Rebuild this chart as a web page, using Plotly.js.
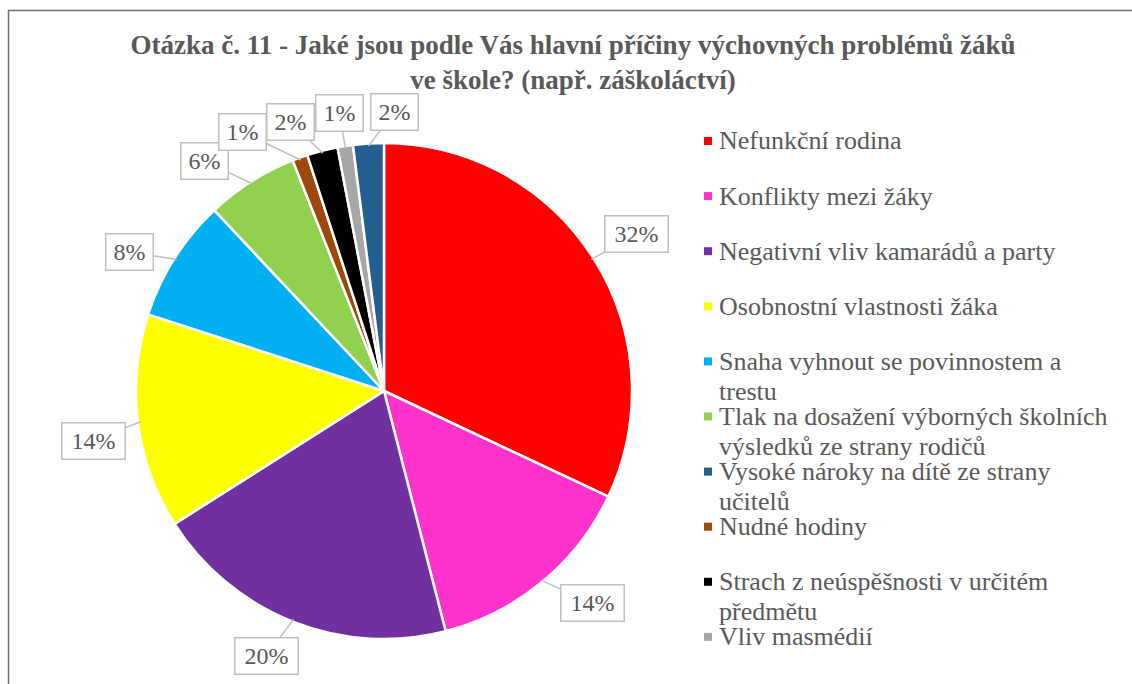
<!DOCTYPE html>
<html>
<head>
<meta charset="utf-8">
<script src="https://cdn.plot.ly/plotly-3.0.1.min.js"></script>
<style>html,body{margin:0;padding:0;background:#fff;}#chart{width:1132px;height:684px;}</style>
</head>
<body>
<div id="chart"></div>
<script>
// ---- data (slice order, clockwise from 12 o'clock) ----
const categories = [
  "Nefunkční rodina",
  "Konflikty mezi žáky",
  "Negativní vliv kamarádů a party",
  "Osobnostní vlastnosti žáka",
  "Snaha vyhnout se povinnostem a trestu",
  "Tlak na dosažení výborných školních výsledků ze strany rodičů",
  "Nudné hodiny",
  "Strach z neúspěšnosti v určitém předmětu",
  "Vliv masmédií",
  "Vysoké nároky na dítě ze strany učitelů"
];
const values = [32, 14, 20, 14, 8, 6, 1, 2, 1, 2];
// legend order and wrapping (lines separated by "|")
const legendLabels = [
  "Nefunkční rodina",
  "Konflikty mezi žáky",
  "Negativní vliv kamarádů a party",
  "Osobnostní vlastnosti žáka",
  "Snaha vyhnout se povinnostem a|trestu",
  "Tlak na dosažení výborných školních|výsledků ze strany rodičů",
  "Vysoké nároky na dítě ze strany|učitelů",
  "Nudné hodiny",
  "Strach z neúspěšnosti v určitém|předmětu",
  "Vliv masmédií"
];
const chartTitle = "Otázka č. 11 - Jaké jsou podle Vás hlavní příčiny výchovných problémů žáků<br>ve škole? (např. záškoláctví)";

// ---- styles ----
const colors = ["#FF0000", "#FF33CC", "#7030A0", "#FFFF00", "#00B0F0", "#92D050", "#9E480E", "#000000", "#A9A6A6", "#255E91"];
const W = 1132, H = 684;
const cx = 384, cy = 391, R = 248;
// label box centres (px), in slice order
const labelBoxes = [[636,234],[592,603],[266,656],[93,441],[129,252],[204,161],[242,132],[290,122],[339,113],[394,112]];
const FONT = "Liberation Serif";
const textColor = "#595959";

const total = values.reduce((a, b) => a + b, 0);
const annotations = [];
let cum = 0;
values.forEach((v, i) => {
  const theta = (cum + v / 2) / total * 2 * Math.PI;
  cum += v;
  const tx = cx + R * 0.99 * Math.sin(theta);
  const ty = cy - R * 0.99 * Math.cos(theta);
  const txt = Math.round(v / total * 100) + "%";
  annotations.push({
    xref: "paper", yref: "paper",
    x: tx / W, y: 1 - ty / H,
    ax: labelBoxes[i][0] - tx, ay: labelBoxes[i][1] - ty,
    showarrow: true, arrowhead: 0, arrowwidth: 1.5, arrowcolor: "#BFBFBF", standoff: 0,
    text: txt,
    font: {family: FONT, size: 24, color: textColor},
    bgcolor: "#FFFFFF", bordercolor: "#BFBFBF", borderwidth: 1.5,
    width: txt.length > 2 ? 62 : 46, height: 35, borderpad: 0
  });
});

// legend
const shapes = [];
legendLabels.forEach((lab, i) => {
  const lines = lab.split("|");
  const name = lines.join(" ");
  const ci = categories.indexOf(name);
  const yc = 141 + 55.1 * i;
  shapes.push({
    type: "rect", xref: "paper", yref: "paper",
    x0: 704 / W, x1: 712 / W, y0: 1 - (yc + 4) / H, y1: 1 - (yc - 4) / H,
    fillcolor: colors[ci], line: {width: 0}
  });
  lines.forEach((ln, j) => {
    annotations.push({
      xref: "paper", yref: "paper", x: 717 / W, y: 1 - (yc + j * 30) / H,
      xanchor: "left", yanchor: "middle", showarrow: false,
      text: ln, font: {family: FONT, size: 26, color: textColor}
    });
  });
});

// outer chart border
shapes.push({
  type: "rect", xref: "paper", yref: "paper",
  x0: 8.5 / W, x1: 1.02, y0: -0.03, y1: 1 - 10.5 / H,
  line: {color: "#6E6E6E", width: 1.5}, fillcolor: "rgba(0,0,0,0)"
});

const trace = {
  type: "pie",
  labels: categories,
  values: values,
  sort: false,
  direction: "clockwise",
  rotation: 0,
  textinfo: "none",
  hoverinfo: "label+percent",
  showlegend: false,
  marker: {colors: colors, line: {color: "#FFFFFF", width: 2.5}},
  domain: {x: [(cx - R) / W, (cx + R) / W], y: [1 - (cy + R) / H, 1 - (cy - R) / H]}
};

const layout = {
  width: W, height: H,
  margin: {l: 0, r: 0, t: 0, b: 0},
  paper_bgcolor: "#FFFFFF",
  font: {family: FONT, color: textColor},
  title: {
    text: "<b>" + chartTitle.replace("<br>", "</b><br><b>") + "</b>",
    font: {family: FONT, size: 27, color: textColor},
    x: 573 / W, xanchor: "center", xref: "paper",
    y: 1 - 54 / H, yanchor: "top", yref: "container"
  },
  showlegend: false,
  annotations: annotations,
  shapes: shapes
};

Plotly.newPlot("chart", [trace], layout, {staticPlot: true});
</script>
</body>
</html>
